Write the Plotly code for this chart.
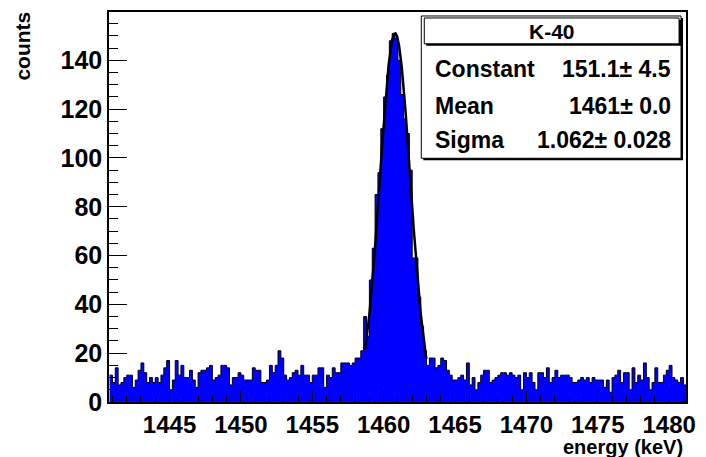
import numpy as np
import plotly.graph_objects as go

# Histogram binning (keV)
BIN_START = 1440.8
BIN_WIDTH = 0.2

# Counts per 0.2 keV bin
COUNTS = [
    11, 8, 14, 7, 8, 10, 11, 11, 6, 9, 13, 16, 12, 8, 10, 8, 10, 8, 11, 14,
    17, 5, 9, 17, 11, 15, 10, 10, 13, 9, 6, 12, 13, 13, 14, 15, 9, 10, 11, 15,
    15, 14, 7, 10, 10, 12, 11, 9, 9, 9, 14, 13, 13, 8, 8, 9, 15, 12, 15, 21,
    18, 11, 9, 10, 12, 13, 11, 15, 11, 11, 8, 11, 11, 14, 14, 6, 11, 10, 14, 12,
    12, 16, 16, 16, 15, 16, 18, 18, 21, 35, 27, 50, 63, 85, 94, 112, 125, 134, 148, 151,
    149, 140, 126, 116, 110, 95, 59, 59, 43, 31, 21, 15, 18, 18, 14, 15, 18, 17, 13, 11,
    9, 9, 10, 11, 9, 16, 7, 10, 5, 8, 11, 13, 13, 8, 9, 10, 11, 12, 12, 11,
    12, 11, 10, 11, 5, 12, 10, 12, 8, 5, 12, 12, 10, 14, 8, 10, 13, 10, 11, 11,
    11, 10, 8, 8, 9, 10, 9, 10, 8, 10, 9, 9, 9, 6, 9, 4, 10, 11, 13, 8,
    12, 12, 5, 14, 8, 11, 9, 16, 10, 5, 8, 14, 8, 8, 11, 13, 15, 10, 9, 8,
    10, 7,
]

# Gaussian fit result
FIT_NAME = "K-40"
CONSTANT, CONSTANT_ERR = 151.1, 4.5
MEAN, MEAN_ERR = 1460.8, 0.04
SIGMA, SIGMA_ERR = 1.062, 0.028
FIT_RANGE = (1458.7, 1463.0)

X_RANGE = (1440.76, 1481.18)
Y_RANGE = (0, 159.8)
X_TICKS = [1445, 1450, 1455, 1460, 1465, 1470, 1475, 1480]
Y_TICKS = [0, 20, 40, 60, 80, 100, 120, 140]

X_TITLE = "energy (keV)"
Y_TITLE = "counts"

FONT = "Liberation Sans, Arial, Helvetica, sans-serif"

W, H = 706, 457
ML, MR, MT, MB = 109, 15, 10, 55
PW, PH = W - ML - MR, H - MT - MB


def px(x):
    """page x pixel -> paper coordinate"""
    return (x - ML) / PW


def py(y):
    """page y pixel -> paper coordinate"""
    return (H - MB - y) / PH


edges = BIN_START + BIN_WIDTH * np.arange(len(COUNTS) + 1)
step_y = list(COUNTS) + [COUNTS[-1]]

fx = np.linspace(FIT_RANGE[0], FIT_RANGE[1], 300)
fy = CONSTANT * np.exp(-0.5 * ((fx - MEAN) / SIGMA) ** 2)

fig = go.Figure()
fig.add_trace(go.Scatter(
    x=edges, y=step_y, mode="lines", line=dict(shape="hv", color="black", width=1),
    fill="tozeroy", fillcolor="#0000ff", hoverinfo="skip", showlegend=False,
))
fig.add_trace(go.Scatter(
    x=fx, y=fy, mode="lines", line=dict(color="black", width=2.5),
    hoverinfo="skip", showlegend=False,
))

tick_font = dict(family=FONT, size=24, color="black", weight="bold")

fig.update_layout(
    width=W, height=H,
    margin=dict(l=ML, r=MR, t=MT, b=MB, pad=0),
    paper_bgcolor="white", plot_bgcolor="white",
    xaxis=dict(
        range=list(X_RANGE), tickmode="array", tickvals=X_TICKS,
        ticks="inside", ticklen=11, tickwidth=1, tickcolor="black",
        minor=dict(tickmode="linear", tick0=0, dtick=1, ticks="inside",
                   ticklen=6, tickcolor="black", showgrid=False),
        showline=True, linecolor="black", linewidth=1.5, mirror=True,
        showgrid=False, zeroline=False, tickfont=tick_font,
    ),
    yaxis=dict(
        range=list(Y_RANGE), tickmode="array", tickvals=Y_TICKS,
        ticks="inside", ticklen=18, tickwidth=1, tickcolor="black",
        minor=dict(tickmode="linear", tick0=0, dtick=5, ticks="inside",
                   ticklen=9, tickcolor="black", showgrid=False),
        showline=True, linecolor="black", linewidth=1.5, mirror=True,
        showgrid=False, zeroline=False, tickfont=dict(tick_font, size=25),
    ),
)

title_font = dict(family=FONT, size=20, color="black", weight="bold")
fig.add_annotation(
    text=X_TITLE, xref="paper", yref="paper", x=px(690), y=py(447),
    xanchor="right", yanchor="middle", showarrow=False, font=title_font,
)
fig.add_annotation(
    text=Y_TITLE, xref="paper", yref="paper", x=px(22), y=py(44),
    xanchor="center", yanchor="middle", textangle=-90, showarrow=False,
    font=dict(title_font, size=21),
)

# Fit statistics box
box = (424, 14, 686, 157)
title_box = (427, 16, 684, 42)
shadow = 2
for x0, y0, x1, y1 in (box, title_box):
    fig.add_shape(type="rect", xref="paper", yref="paper",
                  x0=px(x0 + shadow), y0=py(y1 + shadow), x1=px(x1 + shadow), y1=py(y0 + shadow),
                  line=dict(width=0), fillcolor="black", layer="above")
    fig.add_shape(type="rect", xref="paper", yref="paper",
                  x0=px(x0), y0=py(y1), x1=px(x1), y1=py(y0),
                  line=dict(color="black", width=1), fillcolor="white", layer="above")

fig.add_annotation(
    text=FIT_NAME, xref="paper", yref="paper", x=px((title_box[0] + title_box[2]) / 2),
    y=py(30), xanchor="center", yanchor="middle", showarrow=False,
    font=dict(family=FONT, size=21, color="black", weight="bold"),
)

stat_font = dict(family=FONT, size=23, color="black", weight="bold")
rows = [
    ("Constant", f"{CONSTANT:.1f}\u00b1 {CONSTANT_ERR:.1f}", 67),
    ("Mean", f"{MEAN:.0f}\u00b1 {MEAN_ERR:.1f}", 104),
    ("Sigma", f"{SIGMA:.3f}\u00b1 {SIGMA_ERR:.3f}", 139),
]
for name, value, yc in rows:
    fig.add_annotation(text=name, xref="paper", yref="paper", x=px(436), y=py(yc),
                       xanchor="left", yanchor="middle", showarrow=False, font=stat_font)
    fig.add_annotation(text=value, xref="paper", yref="paper", x=px(678), y=py(yc),
                       xanchor="right", yanchor="middle", showarrow=False, font=stat_font)

fig.write_html("out.html")
